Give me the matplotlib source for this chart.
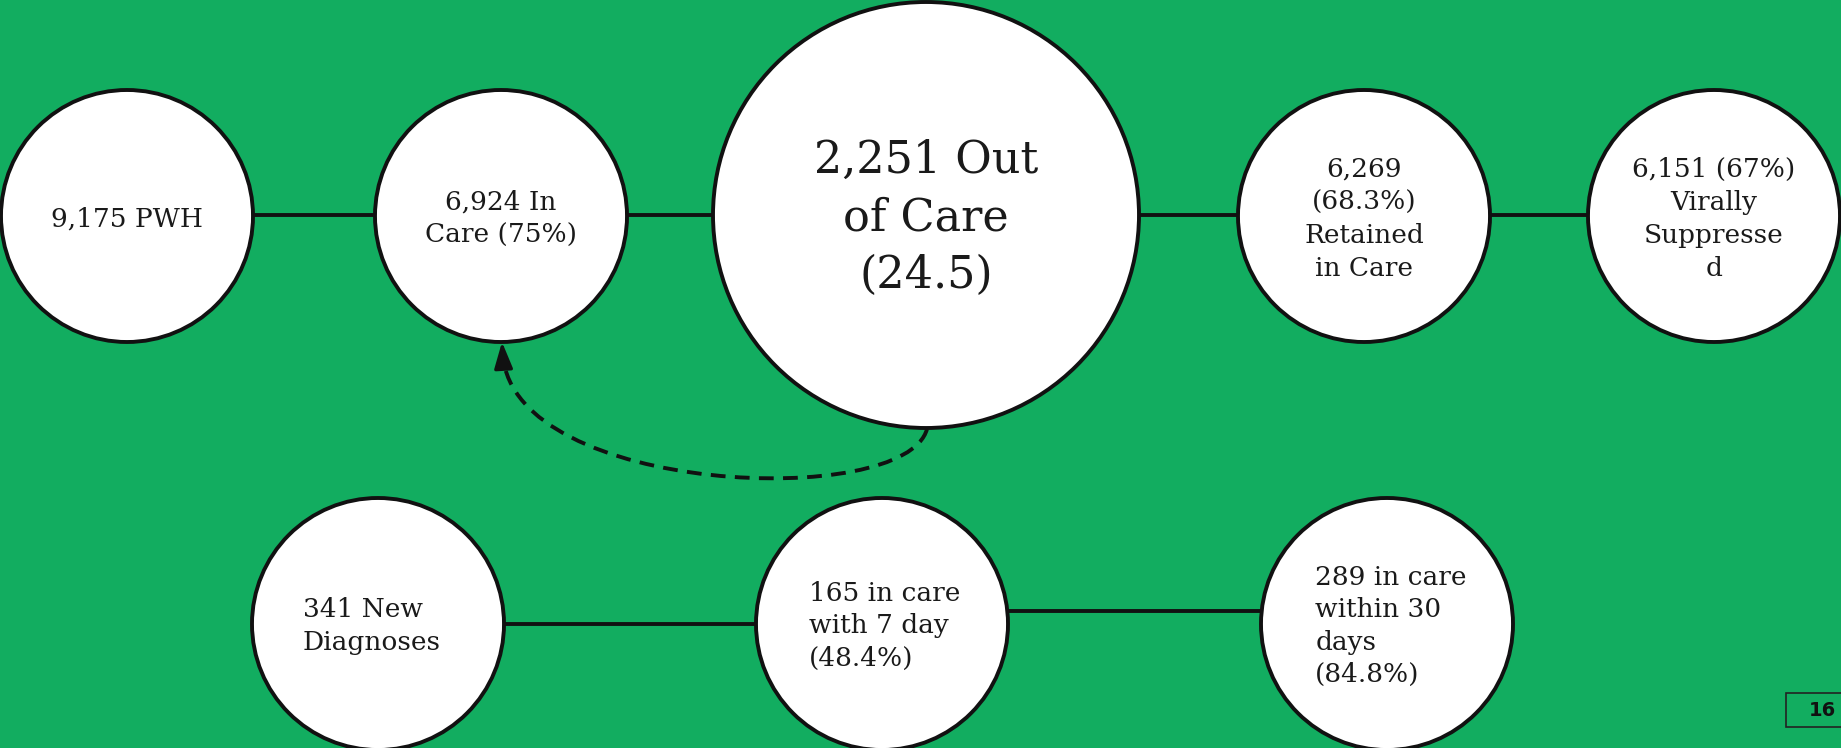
import matplotlib
matplotlib.use("Agg")
import matplotlib.pyplot as plt
from matplotlib.patches import Circle, FancyArrowPatch, PathPatch, Rectangle
from matplotlib.path import Path

# ---- data (labels of the cascade) ----
top_labels = [
    "9,175 PWH",
    "6,924 In\nCare (75%)",
    "2,251 Out\nof Care\n(24.5)",
    "6,269\n(68.3%)\nRetained\nin Care",
    "6,151 (67%)\nVirally\nSuppresse\nd",
]
bottom_labels = [
    "341 New\nDiagnoses",
    "165 in care\nwith 7 day\n(48.4%)",
    "289 in care\nwithin 30\ndays\n(84.8%)",
]
page_number = "16"

# ---- layout (pixels) ----
W, H = 1841, 748
GREEN = "#12AD60"
INK = "#111111"
top_x = [127, 501, 926, 1364, 1714]
top_y = [216, 216, 215, 216, 216]
top_r = [126, 126, 213, 126, 126]
top_fs = [19, 19, 32, 19, 19]
top_ls = [1.4, 1.4, 1.43, 1.4, 1.4]
bot_x = [378, 882, 1387]
bot_y = [624, 624, 624]
bot_r = [126, 126, 126]
bot_text_dx = [-6, 3, 4]
bot_links_y = [624, 611]

fig = plt.figure(figsize=(W / 100, H / 100), dpi=100, facecolor=GREEN)
ax = fig.add_axes([0, 0, 1, 1])
ax.set_xlim(0, W)
ax.set_ylim(H, 0)
ax.set_aspect("equal")
ax.axis("off")
ax.set_facecolor(GREEN)

LW = 2.8
font = "DejaVu Serif"

# connecting lines, top row
for i in range(len(top_x) - 1):
    ax.plot([top_x[i], top_x[i + 1]], [215, 215], color=INK, lw=LW, zorder=1,
            solid_capstyle="butt")
# connecting lines, bottom row
for i in range(len(bot_x) - 1):
    yy = bot_links_y[i]
    ax.plot([bot_x[i], bot_x[i + 1]], [yy, yy], color=INK, lw=LW, zorder=1,
            solid_capstyle="butt")

# circles + labels, top row
for x, y, r, lab, fs, ls in zip(top_x, top_y, top_r, top_labels, top_fs, top_ls):
    ax.add_patch(Circle((x, y), r, facecolor="white", edgecolor=INK, lw=LW, zorder=2))
    ax.text(x, y + 3, lab, ha="center", va="center", multialignment="center",
            fontsize=fs, family=font, color="#1a1a1a", linespacing=ls, zorder=3)

# circles + labels, bottom row
for x, y, r, lab, dx in zip(bot_x, bot_y, bot_r, bottom_labels, bot_text_dx):
    ax.add_patch(Circle((x, y), r, facecolor="white", edgecolor=INK, lw=LW, zorder=2))
    ax.text(x + dx, y + 2, lab, ha="center", va="center", multialignment="left",
            fontsize=19, family=font, color="#1a1a1a", linespacing=1.38, zorder=3)

# dashed return arrow from "Out of Care" to "In Care"
verts = [(927, 429), (905, 510), (515, 495), (503, 356)]
codes = [Path.MOVETO, Path.CURVE4, Path.CURVE4, Path.CURVE4]
ax.add_patch(PathPatch(Path(verts, codes), facecolor="none", edgecolor=INK,
                       lw=2.8, linestyle=(0, (3.8, 2.4)), zorder=1))
ax.add_patch(FancyArrowPatch(posA=(503.5, 368), posB=(502, 342),
                             arrowstyle="-|>,head_length=0.8,head_width=0.28",
                             mutation_scale=20, color=INK, lw=2.4, zorder=1,
                             shrinkA=0, shrinkB=0))

# page number box
ax.add_patch(Rectangle((1786, 693), 90, 34, facecolor=GREEN, edgecolor="#222222",
                       lw=1.2, zorder=2))
ax.text(1822, 711, page_number, ha="center", va="center", fontsize=14,
        fontweight="bold", family="DejaVu Sans", color="#111111", zorder=3)

fig.savefig("out.png", dpi=100, facecolor=GREEN)
